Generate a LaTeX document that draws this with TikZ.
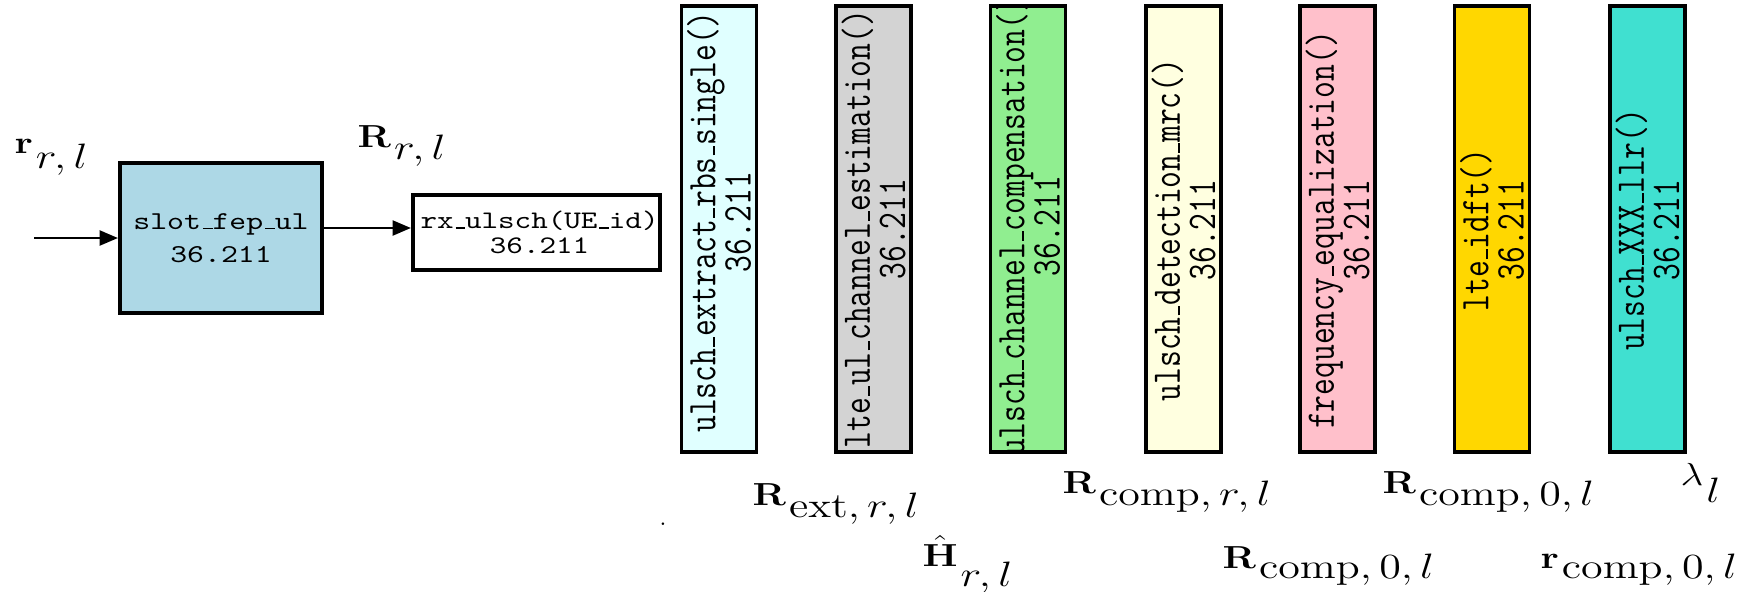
\RequirePackage{fix-cm}
\documentclass[tikz,border=0pt]{standalone}
\usetikzlibrary{arrows.meta}

% X11-style fills of the processing blocks
\definecolor{cLightBlue}{HTML}{ADD8E6}
\definecolor{cLightCyan}{HTML}{E0FFFF}
\definecolor{cLightGray}{HTML}{D3D3D3}
\definecolor{cLightGreen}{HTML}{90EE90}
\definecolor{cLightYellow}{HTML}{FFFFE0}
\definecolor{cPink}{HTML}{FFC0CB}
\definecolor{cGold}{HTML}{FFD700}
\definecolor{cTurquoise}{HTML}{40E0D0}

% short typewriter underscore resting on the baseline
\newcommand{\usc}{\kern.06em\vrule width .3em height .6pt depth 0pt\relax}
% signal label: symbol with a lowered full-size index
\newcommand{\mlab}[3]{\fontsize{13}{13}\selectfont$#1$\kern1pt\raisebox{-#3}[0pt][0pt]{\fontsize{14.4}{14.4}\selectfont$#2$}}

\begin{document}
\begin{tikzpicture}[x=0.408pt,y=-0.408pt,
  box/.style={draw, line width=1.3pt, inner sep=0pt},
  hstretch/.style={xscale=1.25},
  vfn/.style={xscale=1.25, rotate=90, align=center, inner sep=0pt,
    font=\ttfamily\fontsize{13.3}{11.5}\selectfont},
  lab/.style={xscale=1.25, anchor=base west, inner sep=0pt},
  flow/.style={line width=1.2pt, -{Triangle[length=7.5pt,width=6pt]}}]
\useasboundingbox (0,0) rectangle (1764,591);

% front end and per-UE receiver
\node[box, fill=cLightBlue, hstretch, align=center,
  font=\ttfamily\fontsize{10.5}{13.5}\selectfont,
  minimum width=65.9pt, minimum height=61.2pt] (slot) at (221,238)
  {slot\usc fep\usc ul\\36.211};
\node[box, fill=white, hstretch, align=center,
  font=\ttfamily\fontsize{10.3}{10.2}\selectfont,
  minimum width=80.6pt, minimum height=30.6pt] (rx) at (536.5,232.5)
  {\hspace*{2pt}rx\usc ulsch(UE\usc id)\\\hspace*{2pt}36.211};

\coordinate (src) at (34,238);
\coordinate (lnk) at (0,228);
\draw[flow] (src) -- (slot.west);
\draw[flow] (slot.east |- lnk) -- (rx.west |- lnk);

% PUSCH processing chain, one tall block per stage
\foreach \n/\cx/\dy/\col/\txt in {
  1/719/-7/cLightCyan/{ulsch\usc extract\usc rbs\usc single()},
  2/873.5/0/cLightGray/{lte\usc ul\usc channel\usc estimation()},
  3/1028/-3/cLightGreen/{ulsch\usc channel\usc compensation()},
  4/1183.5/1/cLightYellow/{ulsch\usc detection\usc mrc()},
  5/1337.5/1/cPink/{frequency\usc equalization()},
  6/1492/1/cGold/{lte\usc idft()},
  7/1647.5/1/cTurquoise/{ulsch\usc XXX\usc llr()}}
{
  \node[box, fill=\col, minimum width=30.6pt, minimum height=182pt,
    path picture={\node[vfn] (t\n) at ([yshift=-\dy*0.408pt]path picture bounding box.center)
      {\txt\\36.211};}] (b\n) at (\cx,229) {};
}

% signal labels
\node[lab] (lr) at (14,153) {\mlab{\mathbf{r}}{r,l}{6.5pt}};
\node[lab] (lR) at (357,147) {\mlab{\mathbf{R}}{r,l}{5.3pt}};
\node[lab] (lext) at (752,505) {\mlab{\mathbf{R}}{\mathrm{ext},r,l}{4.9pt}};
\node[lab] (lcomp) at (1062,493) {\mlab{\mathbf{R}}{\mathrm{comp},r,l}{4.9pt}};
\node[lab] (lcompA) at (1382,493) {\mlab{\mathbf{R}}{\mathrm{comp},0,l}{4.9pt}};
\node[lab] (llam) at (1680,485) {\mlab{\lambda}{l}{7pt}};
\node[lab] (lH) at (922,566) {\mlab{\hat{\mathbf{H}}}{r,l}{8.5pt}};
\node[lab] (lcompB) at (1222,568) {\mlab{\mathbf{R}}{\mathrm{comp},0,l}{4.1pt}};
\node[lab] (lrc) at (1540,568) {\mlab{\mathbf{r}}{\mathrm{comp},0,l}{4.1pt}};
\node (dot) at (663,524) {.};
\end{tikzpicture}
\end{document}
